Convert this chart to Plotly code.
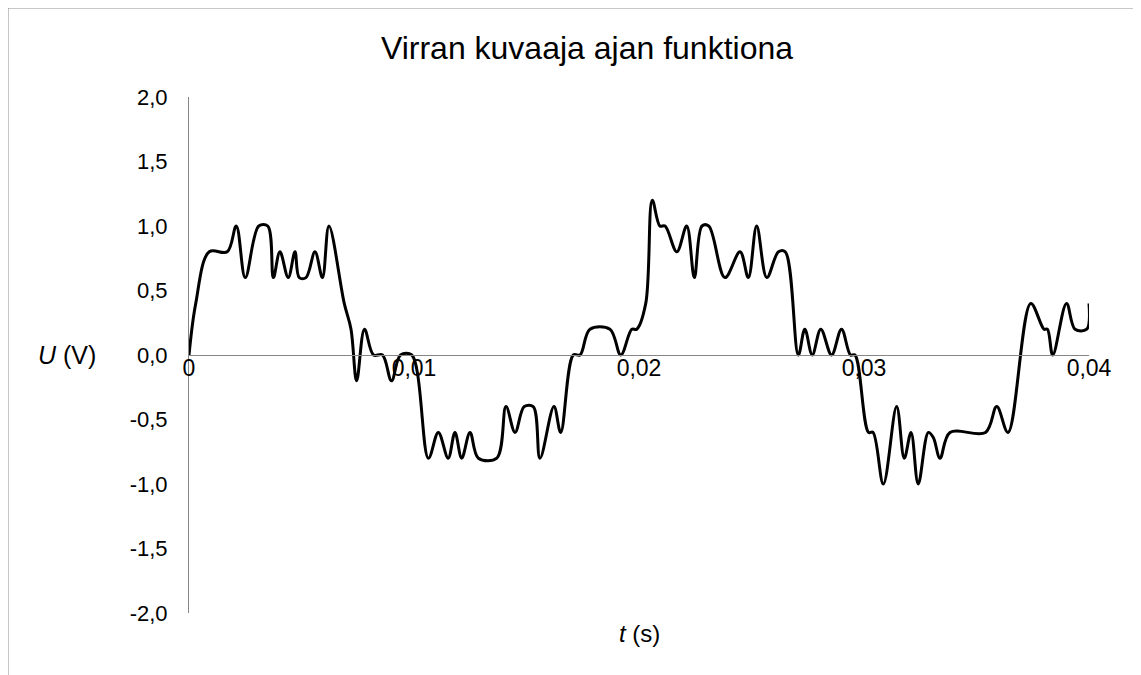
import plotly.graph_objects as go

# Aika (s) ja jännite (V), luettu kuvaajasta
t = [0, 0.0003, 0.0009, 0.0017, 0.0021, 0.0025, 0.0031, 0.0035, 0.00375, 0.00404,
     0.00441, 0.00471, 0.0049, 0.0052, 0.0056, 0.00593, 0.00622, 0.0069, 0.0072, 0.00745,
     0.0078, 0.0082, 0.0086, 0.0090, 0.0094, 0.0099, 0.01064, 0.01108, 0.01152, 0.01182,
     0.01212, 0.01249, 0.01286, 0.01368, 0.01409, 0.01449, 0.0149, 0.0153, 0.0156, 0.01622,
     0.01652, 0.01708, 0.01738, 0.01782, 0.01871, 0.01919, 0.01968, 0.0199, 0.0203, 0.02059,
     0.02093, 0.02116, 0.02168, 0.02212, 0.02246, 0.0228, 0.0231, 0.02382, 0.02449, 0.02486,
     0.02523, 0.02568, 0.0262, 0.0265, 0.02708, 0.02737, 0.0277, 0.02808, 0.02856, 0.029,
     0.0294, 0.0296, 0.0302, 0.0304, 0.03086, 0.03145, 0.03179, 0.03209, 0.03241, 0.03286,
     0.03308, 0.03338, 0.03382, 0.0354, 0.0359, 0.0364, 0.03741, 0.038, 0.03815, 0.03839,
     0.039, 0.03938, 0.0399, 0.04]
U = [0.0, 0.4, 0.8, 0.8, 1.0, 0.6, 1.0, 1.0, 0.6, 0.8,
     0.6, 0.8, 0.6, 0.6, 0.8, 0.6, 1.0, 0.4, 0.2, -0.2,
     0.2, 0.0, 0.0, -0.2, 0.0, 0.0, -0.8, -0.6, -0.8, -0.6,
     -0.8, -0.6, -0.8, -0.8, -0.4, -0.6, -0.4, -0.4, -0.8, -0.4,
     -0.6, 0.0, 0.0, 0.2, 0.2, 0.0, 0.2, 0.2, 0.4, 1.2,
     1.0, 1.0, 0.8, 1.0, 0.6, 1.0, 1.0, 0.6, 0.8, 0.6,
     1.0, 0.6, 0.8, 0.8, 0.0, 0.2, 0.0, 0.2, 0.0, 0.2,
     0.0, 0.0, -0.6, -0.6, -1.0, -0.4, -0.8, -0.6, -1.0, -0.6,
     -0.64, -0.8, -0.6, -0.6, -0.4, -0.6, 0.4, 0.2, 0.2, 0.0,
     0.4, 0.2, 0.2, 0.4]

y_ticks = [-2.0, -1.5, -1.0, -0.5, 0.0, 0.5, 1.0, 1.5, 2.0]
y_labels = ["-2,0", "-1,5", "-1,0", "-0,5", "0,0", "0,5", "1,0", "1,5", "2,0"]
x_ticks = [0, 0.01, 0.02, 0.03, 0.04]
x_labels = ["0", "0,01", "0,02", "0,03", "0,04"]

FONT = "Liberation Sans, Arial, sans-serif"

fig = go.Figure()
fig.add_trace(go.Scatter(x=t, y=U, mode="lines",
                         line=dict(color="black", width=3, shape="spline", smoothing=1),
                         showlegend=False))

# sivun oma 8 px reunus huomioitu: kuva 1133x667
fig.update_layout(
    width=1133, height=667,
    margin=dict(l=181, r=52, t=89, b=62),
    paper_bgcolor="white", plot_bgcolor="white",
    font=dict(family=FONT, size=22, color="black"),
    title=dict(text="Virran kuvaaja ajan funktiona", x=0.511, xanchor="center",
               y=1 - 40 / 667, yanchor="middle", font=dict(size=32)),
    xaxis=dict(range=[0, 0.04], tickvals=x_ticks, ticktext=x_labels,
               tickfont=dict(size=23), ticklabelstandoff=-8,
               showgrid=False, zeroline=False, showline=True, linecolor="#868686",
               linewidth=1, anchor="free", position=0.5, ticks=""),
    yaxis=dict(range=[-2, 2], tickvals=y_ticks, ticktext=y_labels,
               tickfont=dict(size=22),
               showgrid=False, zeroline=False, showline=True, linecolor="#868686",
               linewidth=1, ticks="outside", ticklen=16, tickcolor="rgba(0,0,0,0)"),
)

# akselien otsikot
fig.add_annotation(text="<i>U</i> (V)", xref="paper", yref="y", x=-0.135, y=0,
                   xanchor="center", yanchor="middle", showarrow=False,
                   font=dict(size=25))
fig.add_annotation(text="<i>t</i> (s)", xref="paper", yref="paper", x=0.5, y=-0.04,
                   xanchor="center", yanchor="middle", showarrow=False,
                   font=dict(size=24))

# kaavion reunus
fig.add_shape(type="rect", xref="paper", yref="paper", x0=-0.2011, x1=1.0533,
              y0=-0.2, y1=1.1725, line=dict(color="#8c8c8c", width=1))

fig.write_html("out.html")
